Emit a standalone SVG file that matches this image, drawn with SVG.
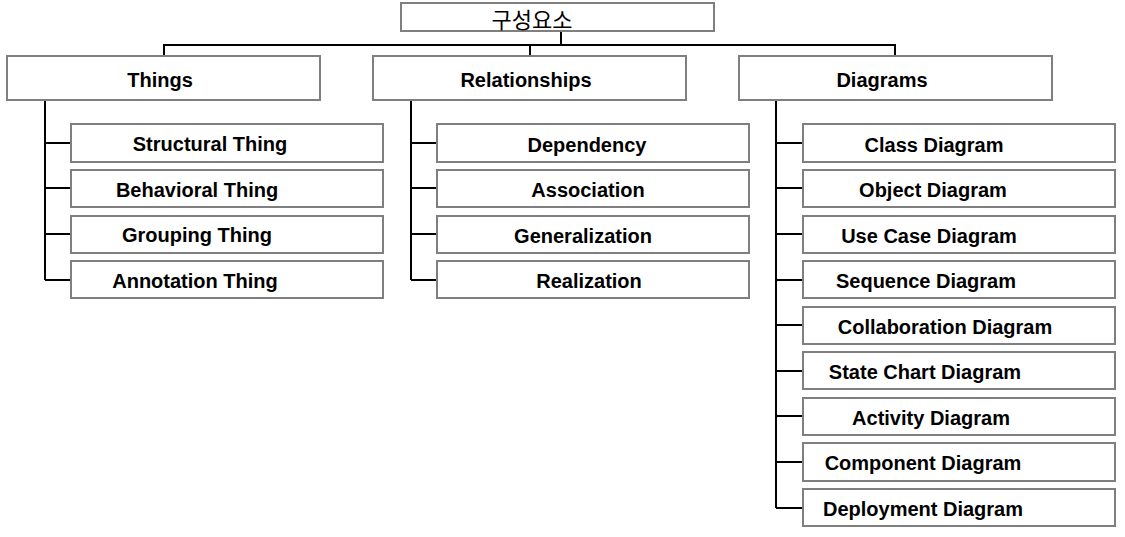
<svg xmlns="http://www.w3.org/2000/svg" width="1125" height="537" viewBox="0 0 1125 537">
<style>
.box{fill:#fff;stroke:#7f7f7f;stroke-width:2}
.t{font-family:"Liberation Sans",Arial,sans-serif;font-weight:bold;font-size:20px;fill:#000;text-anchor:middle}
.k{font-family:"Noto Sans CJK KR","Liberation Sans",sans-serif;font-size:22px;fill:#000;text-anchor:middle}
.c{fill:none;stroke:#000;stroke-width:2}
</style>
<rect width="1125" height="537" fill="#fff"/>
<g id="connectors">
<path class="c" d="M561 31V45M164 56V45H895V56M530 45V56"/>
<path class="c" d="M45 100V280M45 143H71M45 188H71M45 234H71M45 280H71"/>
<path class="c" d="M411 100V280M411 143H437M411 188H437M411 234H437M411 280H437"/>
<path class="c" d="M776 100V508M776 143H803M776 188H803M776 234H803M776 280H803M776 325H803M776 371H803M776 416H803M776 462H803M776 508H803"/>
</g>
<g id="root"><rect class="box" x="401" y="3" width="313" height="28"/><text class="k" x="532" y="28">구성요소</text></g>
<g id="things"><rect class="box" x="7" y="56" width="313" height="44"/><text class="t" x="160" y="87">Things</text></g>
<g id="relationships"><rect class="box" x="373" y="56" width="313" height="44"/><text class="t" x="526" y="87">Relationships</text></g>
<g id="diagrams"><rect class="box" x="739" y="56" width="313" height="44"/><text class="t" x="882" y="87">Diagrams</text></g>
<g id="structural"><rect class="box" x="71" y="124" width="312" height="38"/><text class="t" x="210" y="151">Structural Thing</text></g>
<g id="behavioral"><rect class="box" x="71" y="170" width="312" height="37"/><text class="t" x="197" y="197">Behavioral Thing</text></g>
<g id="grouping"><rect class="box" x="71" y="216" width="312" height="37"/><text class="t" x="197" y="242">Grouping Thing</text></g>
<g id="annotation"><rect class="box" x="71" y="261" width="312" height="37"/><text class="t" x="195" y="288">Annotation Thing</text></g>
<g id="dependency"><rect class="box" x="437" y="124" width="312" height="38"/><text class="t" x="587" y="152">Dependency</text></g>
<g id="association"><rect class="box" x="437" y="170" width="312" height="37"/><text class="t" x="588" y="197">Association</text></g>
<g id="generalization"><rect class="box" x="437" y="216" width="312" height="37"/><text class="t" x="583" y="243">Generalization</text></g>
<g id="realization"><rect class="box" x="437" y="261" width="312" height="37"/><text class="t" x="589" y="288">Realization</text></g>
<g id="class"><rect class="box" x="803" y="124" width="312" height="38"/><text class="t" x="934" y="152">Class Diagram</text></g>
<g id="object"><rect class="box" x="803" y="170" width="312" height="37"/><text class="t" x="933" y="197">Object Diagram</text></g>
<g id="usecase"><rect class="box" x="803" y="216" width="312" height="37"/><text class="t" x="929" y="243">Use Case Diagram</text></g>
<g id="sequence"><rect class="box" x="803" y="261" width="312" height="37"/><text class="t" x="926" y="288">Sequence Diagram</text></g>
<g id="collaboration"><rect class="box" x="803" y="307" width="312" height="37"/><text class="t" x="945" y="334">Collaboration Diagram</text></g>
<g id="statechart"><rect class="box" x="803" y="352" width="312" height="37"/><text class="t" x="925" y="379">State Chart Diagram</text></g>
<g id="activity"><rect class="box" x="803" y="398" width="312" height="37"/><text class="t" x="931" y="425">Activity Diagram</text></g>
<g id="component"><rect class="box" x="803" y="443" width="312" height="38"/><text class="t" x="923" y="470">Component Diagram</text></g>
<g id="deployment"><rect class="box" x="803" y="489" width="312" height="37"/><text class="t" x="923" y="516">Deployment Diagram</text></g>
</svg>
